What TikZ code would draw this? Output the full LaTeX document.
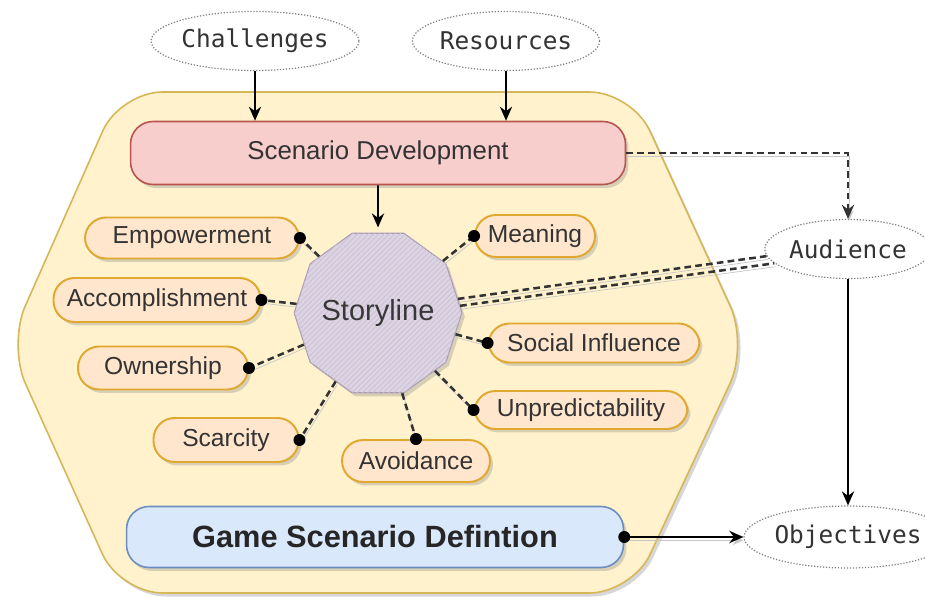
\documentclass[tikz,border=0pt]{standalone}
\usepackage{fontspec}
\setmainfont{Liberation Sans}
\newfontfamily\monof{DejaVu Sans Mono}
\usetikzlibrary{shapes.geometric,arrows.meta,shadows,patterns,calc}
\definecolor{hexfill}{HTML}{FFF2CC}
\definecolor{hexdraw}{HTML}{D6B656}
\definecolor{sdfill}{HTML}{F8CECC}
\definecolor{sddraw}{HTML}{B85450}
\definecolor{satfill}{HTML}{FFE6CC}
\definecolor{satdraw}{HTML}{E0A82E}
\definecolor{stfill}{HTML}{DCD3E3}
\definecolor{sthatch}{HTML}{CBC0D4}
\definecolor{stdraw}{HTML}{A99DB2}
\definecolor{gsdfill}{HTML}{DAE8FC}
\definecolor{gsddraw}{HTML}{6C8EBF}
\definecolor{txt}{HTML}{333333}
\begin{document}
\begin{tikzpicture}[x=0.02cm,y=-0.02cm,
  shad/.style={drop shadow={shadow xshift=0.06cm,shadow yshift=-0.07cm,opacity=0.35,fill=black!45}},
  oval/.style={ellipse,draw=black!50,densely dotted,line width=0.7pt,fill=white,inner sep=0pt,
    minimum height=1.18cm,font=\monof\fontsize{13.9pt}{16pt}\selectfont,text=txt},
  pill/.style={rectangle,rounded corners=0.42cm,draw=satdraw,line width=1.1pt,fill=satfill,shad,
    minimum height=0.82cm,inner sep=0pt,font=\fontsize{14pt}{16pt}\selectfont,text=txt},
  bigbox/.style={rectangle,rounded corners=0.45cm,line width=0.9pt,shad,inner sep=0pt,text=txt},
  conn/.style={line width=1.45pt,dash pattern=on 3.8pt off 2.4pt,draw=black!80,
    preaction={draw=black!22,transform canvas={xshift=0.8pt,yshift=-1.9pt}}},
  arr/.style={line width=0.9pt,-{Stealth[length=8pt,width=7pt]}},
  dotc/.style={fill=black}
]
\useasboundingbox (0,0) rectangle (925,597);
% hexagon container
\path[fill=hexfill,draw=hexdraw,line width=0.9pt,rounded corners=0.85cm,shad]
  (120,92) -- (632,92) -- (748,345) -- (632,593) -- (120,593) -- (8,345) -- cycle;

% top inputs
\node[oval,minimum width=3.8cm] (chal) at (255,41) {Challenges};
\node[oval,minimum width=3.24cm] (res) at (506,41) {Resources};

% main boxes
\node[bigbox,draw=sddraw,fill=sdfill,minimum width=9.9cm,minimum height=1.26cm,
  font=\fontsize{14.7pt}{17pt}\selectfont] (sd) at (378,153) {Scenario Development};
\node[bigbox,draw=gsddraw,fill=gsdfill,minimum width=9.94cm,minimum height=1.22cm,
  font=\bfseries\fontsize{17.5pt}{20pt}\selectfont,text=black!85] (gsd) at (375,537) {Game Scenario Defintion};

% storyline
\node[regular polygon,regular polygon sides=10,minimum size=2.94cm,inner sep=0pt,
  fill=stfill,draw=stdraw,line width=0.6pt,shad,
  postaction={pattern=north east lines,pattern color=sthatch},
  font=\fontsize{16.5pt}{18pt}\selectfont,text=black!78] (story) at (378,313) {Storyline};

% satellites
\node[pill,minimum width=4.28cm] (emp) at (192,238) {Empowerment};
\node[pill,minimum width=4.14cm,minimum height=0.88cm] (acc) at (157,300) {Accomplishment};
\node[pill,minimum width=3.4cm,minimum height=0.86cm] (own) at (163,368) {Ownership};
\node[pill,minimum width=2.9cm,minimum height=0.88cm] (sca) at (226,440) {Scarcity};
\node[pill,minimum width=2.96cm,minimum height=0.84cm] (avo) at (416,461) {Avoidance};
\node[pill,minimum width=2.4cm,minimum height=0.84cm] (mea) at (535,236) {Meaning};
\node[pill,minimum width=4.22cm,minimum height=0.78cm] (soc) at (594,343) {Social Influence};
\node[pill,minimum width=4.26cm,minimum height=0.76cm] (unp) at (581,410) {Unpredictability};

% outputs
\node[oval,minimum width=2.88cm] (aud) at (848,249) {Audience};
\node[oval,minimum width=3.06cm,minimum height=1.24cm] (obj) at (848,537) {Objectives};

% arrows from inputs
\draw[arr] (chal.south) -- (chal.south |- sd.north);
\draw[arr] (res.south) -- (res.south |- sd.north);
\draw[arr,shorten >=3pt] (sd.south) -- (story.north);

% storyline connectors
\foreach \s/\a in {emp/east,acc/east,own/east,sca/east,avo/north,mea/west,soc/west,unp/west}{
  \draw[conn] (story) -- (\s.\a);
  \fill[dotc] (\s.\a) circle (0.12cm);
}
\draw[conn] (story.10) -- (aud.185);
\draw[conn] (story.5) -- (aud.191);

% scenario development to audience
\draw[conn,line width=1.3pt,-{Stealth[length=8pt,width=7pt]}] (sd.east) -| (aud.north);

% audience to objectives
\draw[arr] (aud.south) -- (obj.north);

% game scenario to objectives
\draw[arr,line width=1.1pt,preaction={draw=black!22,transform canvas={xshift=0.8pt,yshift=-1.9pt}}] (gsd.east) -- (obj.west);
\fill[dotc] (gsd.east) circle (0.12cm);
\end{tikzpicture}
\end{document}
